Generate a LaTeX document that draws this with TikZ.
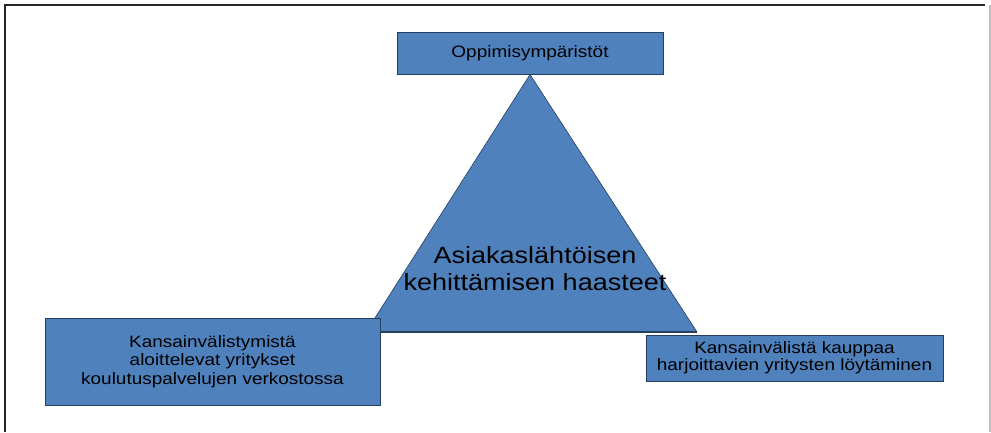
\documentclass[tikz,border=0pt]{standalone}
\usepackage{fontspec}
\setmainfont{Liberation Sans}
\newfontfamily\boxfont{Liberation Sans}[FakeStretch=1.15]
\definecolor{boxblue}{HTML}{4F81BD}
\definecolor{boxedge}{HTML}{243F60}
\tikzset{
  bluebox/.style={draw=boxedge,fill=boxblue,line width=1pt,inner sep=0pt,align=center},
  frameline/.style={line width=2pt,color=black!85}
}

\begin{document}
\begin{tikzpicture}[x=1pt,y=-1pt]
      \useasboundingbox (0,0) rectangle (991,432);
      % Draw frame
      \draw [frameline] (5,432) |- (985,5);
      \draw [black!25,line width=1.5pt] (990,5) -- (990,432);
      % Draw top box
      \node (top) [bluebox,minimum width=266pt,minimum height=42pt,
        font=\boxfont\fontsize{16.5}{18}\selectfont]
        at (530,53) {Oppimisympäristöt};
      % Draw the triangle
      \coordinate (apex) at (top.south);
      \coordinate (baseleft) at (366,332);
      \coordinate (baseright) at (697,332);
      \fill [boxblue] (apex) -- (baseright) -- (baseleft) -- cycle;
      \draw [boxedge,line width=0.6pt] (baseleft) -- (apex) -- (baseright);
      \draw [boxedge,line width=2pt] (baseleft) -- (baseright);
      \node (challenge) [align=center,font=\boxfont\fontsize{23.5}{27}\selectfont]
        at (535,269) {Asiakaslähtöisen\\kehittämisen haasteet};
      % Draw left box
      \node (left) [bluebox,minimum width=335pt,minimum height=87pt,
        font=\boxfont\fontsize{16.5}{18.5}\selectfont]
        at (212.5,361.5) {Kansainvälistymistä\\aloittelevat yritykset\\koulutuspalvelujen verkostossa};
      % Draw right box
      \node (right) [bluebox,minimum width=297pt,minimum height=46pt,
        font=\boxfont\fontsize{16.5}{17}\selectfont]
        at (794.5,358) {Kansainvälistä kauppaa\\harjoittavien yritysten löytäminen};
    \end{tikzpicture}
\end{document}
